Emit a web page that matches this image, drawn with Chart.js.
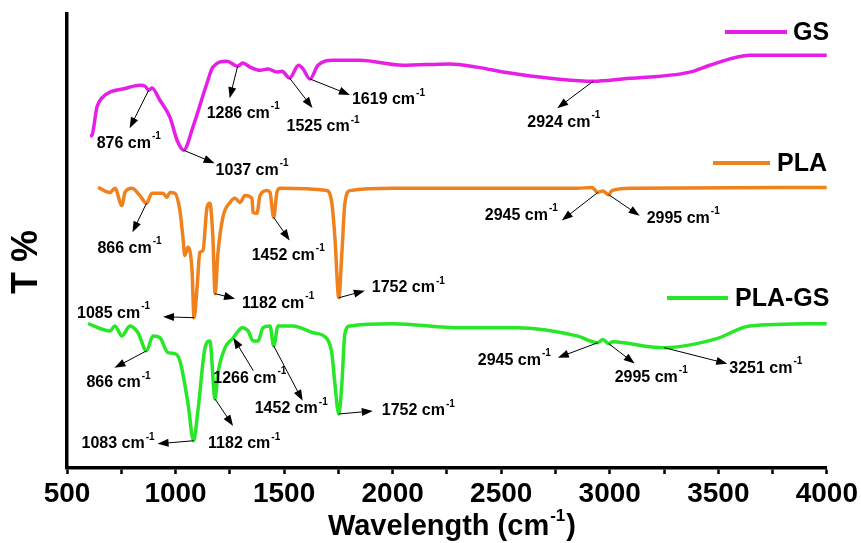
<!DOCTYPE html>
<html>
<head>
<meta charset="utf-8">
<title>FTIR spectra: GS, PLA, PLA-GS</title>
<script src="https://cdn.jsdelivr.net/npm/chart.js@4"></script>
<style>
  html, body { margin: 0; padding: 0; background: #ffffff; }
  #wrap { width: 861px; height: 543px; }
</style>
</head>
<body>
<div id="wrap"><canvas id="ftir" width="861" height="543"></canvas></div>
<script>
// ---- Spectra (wavenumber in cm^-1, transmittance in arbitrary offset units) ----
const wnGS = [606, 615, 638, 661, 776, 836, 860, 876, 891, 928, 974, 1007, 1037, 1080, 1145,
  1172, 1237, 1286, 1310, 1343, 1389, 1426, 1467, 1490, 1525, 1567, 1587, 1619, 1656, 1725,
  1849, 2047, 2264, 2388, 2540, 2924, 3060, 3369, 3461, 3645, 4000];
const tGS = [73.1, 73.3, 79.5, 81.5, 83.7, 84.3, 84.1, 83.2, 83.7, 81.0, 77.3, 72.2, 70.0, 75.1, 84.8,
  88.3, 89.6, 88.5, 89.2, 88.3, 87.6, 87.9, 87.2, 87.4, 85.9, 88.7, 87.9, 85.7, 88.7, 89.8,
  89.8, 88.7, 89.0, 88.3, 87.0, 85.2, 85.7, 87.2, 88.7, 90.9, 90.9];

const wnPLA = [643, 698, 721, 753, 767, 799, 836, 866, 891, 942, 960, 974, 997, 1020, 1034,
  1043, 1057, 1076, 1085, 1099, 1112, 1126, 1145, 1158, 1172, 1182, 1195, 1218, 1251, 1274,
  1297, 1320, 1352, 1357, 1375, 1389, 1421, 1435, 1452, 1467, 1481, 1697, 1720, 1734, 1752,
  1766, 1780, 1803, 2001, 2849, 2918, 2945, 2968, 2995, 3010, 3100, 4000];
const tPLA = [61.8, 60.7, 61.6, 57.8, 60.7, 61.6, 60.0, 58.3, 60.5, 60.5, 59.6, 60.7, 60.5, 56.7, 50.8,
  46.8, 48.6, 43.5, 33.1, 39.7, 47.5, 47.9, 57.4, 58.3, 50.8, 38.4, 47.2, 55.2, 58.5, 59.4,
  58.5, 60.0, 59.4, 56.3, 56.1, 60.0, 61.1, 60.7, 55.2, 60.7, 61.6, 61.1, 58.3, 50.8, 37.5,
  47.2, 58.3, 61.1, 61.6, 61.6, 61.8, 60.7, 61.0, 60.2, 61.1, 61.6, 61.8];

const wnPLAGS = [597, 698, 721, 753, 790, 827, 866, 896, 928, 965, 997, 1020, 1057, 1083, 1103,
  1136, 1158, 1182, 1195, 1228, 1266, 1283, 1306, 1334, 1357, 1380, 1403, 1435, 1452, 1472,
  1541, 1633, 1697, 1720, 1734, 1752, 1766, 1780, 1803, 2001, 2310, 2572, 2849, 2945, 2968,
  2995, 3014, 3185, 3251, 3493, 3645, 4000];
const tPLAGS = [31.8, 30.2, 31.3, 29.1, 31.3, 29.8, 25.8, 29.1, 28.7, 25.4, 25.2, 23.6, 14.3, 6.0, 12.6,
  26.5, 28.0, 15.2, 20.8, 26.5, 28.7, 29.8, 30.9, 30.2, 28.0, 28.0, 30.9, 31.3, 26.9, 31.3,
  31.3, 29.8, 28.5, 25.2, 18.5, 11.9, 18.5, 29.6, 31.3, 31.8, 30.9, 30.9, 29.1, 27.6, 28.3,
  27.4, 27.8, 26.7, 26.5, 28.5, 31.3, 31.8];

// Assigned band positions (cm^-1) for each spectrum
const peaksGS = [876, 1037, 1286, 1525, 1619, 2924];
const peaksPLA = [866, 1085, 1182, 1452, 1752, 2945, 2995];
const peaksPLAGS = [866, 1083, 1182, 1266, 1452, 1752, 2945, 2995, 3251];

const seriesNames = ['GS', 'PLA', 'PLA-GS'];
const xTicks = [500, 1000, 1500, 2000, 2500, 3000, 3500, 4000];

// ---- Styling ----
const FONT = "'Liberation Sans', Arial, Helvetica, sans-serif";
const COLORS = { 'GS': '#e61ee6', 'PLA': '#f0821e', 'PLA-GS': '#28e628' };

// Arrow / label placement around each band, in pixels relative to the band point
const callouts = {
  'GS': {
    876:  { head: [-19, 38], text: [-52, 53] },
    1037: { head: [31, 13],  text: [32, 20] },
    1286: { head: [-8, 32],  text: [-31, 47] },
    1525: { head: [23, 30],  text: [-3, 49] },
    1619: { head: [40, 16],  text: [42, 21] },
    2924: { head: [-36, 27], text: [-66, 41] }
  },
  'PLA': {
    866:  { head: [-14, 29], text: [-49, 45] },
    1085: { head: [-31, -1], text: [-117, -4] },
    1182: { head: [20, 5],   text: [27, 10] },
    1452: { head: [16, 23],  text: [-22, 38] },
    1752: { head: [26, -7],  text: [33, -10] },
    2945: { head: [-36, 28], text: [-113, 23] },
    2995: { head: [31, 21],  text: [38, 24] }
  },
  'PLA-GS': {
    866:  { head: [-32, 17], text: [-60, 32] },
    1083: { head: [-36, 3],  text: [-112, 3] },
    1182: { head: [18, 27],  text: [-7, 45] },
    1266: { tail: [20, 33],  text: [-20, 41] },
    1452: { head: [29, 55],  text: [-19, 63] },
    1752: { head: [34, -3],  text: [43, -3] },
    2945: { head: [-40, 15], text: [-120, 18] },
    2995: { head: [26, 20],  text: [6, 34] },
    3251: { head: [63, 16],  text: [65, 21] }
  }
};

// Legend placement (line sample + text) for each series
const legendSpots = {
  'GS':     { x1: 725, x2: 787, y: 32,  tx: 793 },
  'PLA':    { x1: 713, x2: 770, y: 163, tx: 777 },
  'PLA-GS': { x1: 667, x2: 728, y: 298, tx: 735 }
};

const toPoints = (xs, ys) => xs.map((x, i) => ({ x: x, y: ys[i] }));
const spectra = {
  'GS':     { wn: wnGS, t: tGS, peaks: peaksGS },
  'PLA':    { wn: wnPLA, t: tPLA, peaks: peaksPLA },
  'PLA-GS': { wn: wnPLAGS, t: tPLAGS, peaks: peaksPLAGS }
};

function drawArrow(ctx, x1, y1, x2, y2) {
  const ang = Math.atan2(y2 - y1, x2 - x1);
  const len = 11, half = 4;
  ctx.save();
  ctx.strokeStyle = '#000';
  ctx.fillStyle = '#000';
  ctx.lineWidth = 1;
  ctx.beginPath();
  ctx.moveTo(x1, y1);
  ctx.lineTo(x2 - Math.cos(ang) * len * 0.8, y2 - Math.sin(ang) * len * 0.8);
  ctx.stroke();
  ctx.beginPath();
  ctx.moveTo(x2, y2);
  ctx.lineTo(x2 - Math.cos(ang) * len + Math.sin(ang) * half, y2 - Math.sin(ang) * len - Math.cos(ang) * half);
  ctx.lineTo(x2 - Math.cos(ang) * len - Math.sin(ang) * half, y2 - Math.sin(ang) * len + Math.cos(ang) * half);
  ctx.closePath();
  ctx.fill();
  ctx.restore();
}

// Text with a raised "-1" exponent, left-aligned at (left, midY)
function drawWithExponent(ctx, base, tail, left, midY, size, supSize, rise) {
  ctx.save();
  ctx.fillStyle = '#000';
  ctx.textAlign = 'left';
  ctx.textBaseline = 'middle';
  ctx.font = `bold ${size}px ${FONT}`;
  ctx.fillText(base, left, midY);
  let x = left + ctx.measureText(base).width + 1;
  ctx.font = `bold ${supSize}px ${FONT}`;
  ctx.fillText('-1', x, midY - rise);
  x += ctx.measureText('-1').width + 1;
  if (tail) {
    ctx.font = `bold ${size}px ${FONT}`;
    ctx.fillText(tail, x, midY);
  }
  ctx.restore();
}

function exponentTextWidth(ctx, base, tail, size, supSize) {
  ctx.save();
  ctx.font = `bold ${size}px ${FONT}`;
  let w = ctx.measureText(base).width + 1;
  if (tail) w += ctx.measureText(tail).width;
  ctx.font = `bold ${supSize}px ${FONT}`;
  w += ctx.measureText('-1').width + 1;
  ctx.restore();
  return w;
}

const decorations = {
  id: 'decorations',
  afterDraw(chart) {
    const { ctx, scales: { x, y }, chartArea } = chart;

    // Band call-outs
    seriesNames.forEach(name => {
      const s = spectra[name];
      s.peaks.forEach(wn => {
        const idx = s.wn.indexOf(wn);
        if (idx < 0) return;
        const px = x.getPixelForValue(wn);
        const py = y.getPixelForValue(s.t[idx]);
        const c = callouts[name][wn];
        if (c.head) {
          drawArrow(ctx, px, py, px + c.head[0], py + c.head[1]);
        } else if (c.tail) {
          drawArrow(ctx, px + c.tail[0], py + c.tail[1], px, py);
        }
        drawWithExponent(ctx, wn + ' cm', '', px + c.text[0], py + c.text[1], 16, 10, 7);
      });
    });

    // Legend
    seriesNames.forEach(name => {
      const L = legendSpots[name];
      ctx.save();
      ctx.strokeStyle = COLORS[name];
      ctx.lineWidth = 4;
      ctx.beginPath();
      ctx.moveTo(L.x1, L.y);
      ctx.lineTo(L.x2, L.y);
      ctx.stroke();
      ctx.fillStyle = '#000';
      ctx.font = `bold 25px ${FONT}`;
      ctx.textAlign = 'left';
      ctx.textBaseline = 'middle';
      ctx.fillText(name, L.tx, L.y + 1);
      ctx.restore();
    });

    // X axis title with exponent
    const tw = exponentTextWidth(ctx, 'Wavelength (cm', ')', 29, 17);
    const cx = (chartArea.left + chartArea.right) / 2 + 5;
    drawWithExponent(ctx, 'Wavelength (cm', ')', cx - tw / 2, 527, 29, 17, 11);

    // Y axis title
    ctx.save();
    ctx.translate(27, 262);
    ctx.rotate(-Math.PI / 2);
    ctx.fillStyle = '#000';
    ctx.font = `bold 36px ${FONT}`;
    ctx.textAlign = 'center';
    ctx.textBaseline = 'middle';
    ctx.fillText('T %', 0, 0);
    ctx.restore();
  }
};

new Chart(document.getElementById('ftir'), {
  type: 'line',
  data: {
    datasets: seriesNames.map(name => ({
      label: name,
      data: toPoints(spectra[name].wn, spectra[name].t),
      borderColor: COLORS[name],
      backgroundColor: COLORS[name],
      borderWidth: 3.5,
      pointRadius: 0,
      fill: false,
      cubicInterpolationMode: 'monotone'
    }))
  },
  options: {
    responsive: false,
    animation: false,
    devicePixelRatio: 1,
    layout: { padding: { top: 14, right: 34, left: 0, bottom: 0 } },
    plugins: { legend: { display: false }, tooltip: { enabled: false } },
    scales: {
      x: {
        type: 'linear',
        min: xTicks[0],
        max: xTicks[xTicks.length - 1],
        ticks: {
          stepSize: 250,
          autoSkip: false,
          maxRotation: 0,
          padding: 3,
          color: '#000',
          font: { family: FONT, size: 28, weight: 'bold' },
          callback: v => (xTicks.includes(v) ? String(v) : '')
        },
        grid: { drawOnChartArea: false, drawTicks: true, tickLength: 6, tickWidth: 2.5, tickColor: '#000' },
        border: { display: true, color: '#000', width: 3.5 },
        afterFit: s => { s.height = 75; }
      },
      y: {
        min: 0,
        max: 100,
        ticks: { display: false },
        grid: { display: false, drawTicks: false },
        border: { display: true, color: '#000', width: 3.5 },
        afterFit: s => { s.width = 67; }
      }
    }
  },
  plugins: [decorations]
});
</script>
</body>
</html>
